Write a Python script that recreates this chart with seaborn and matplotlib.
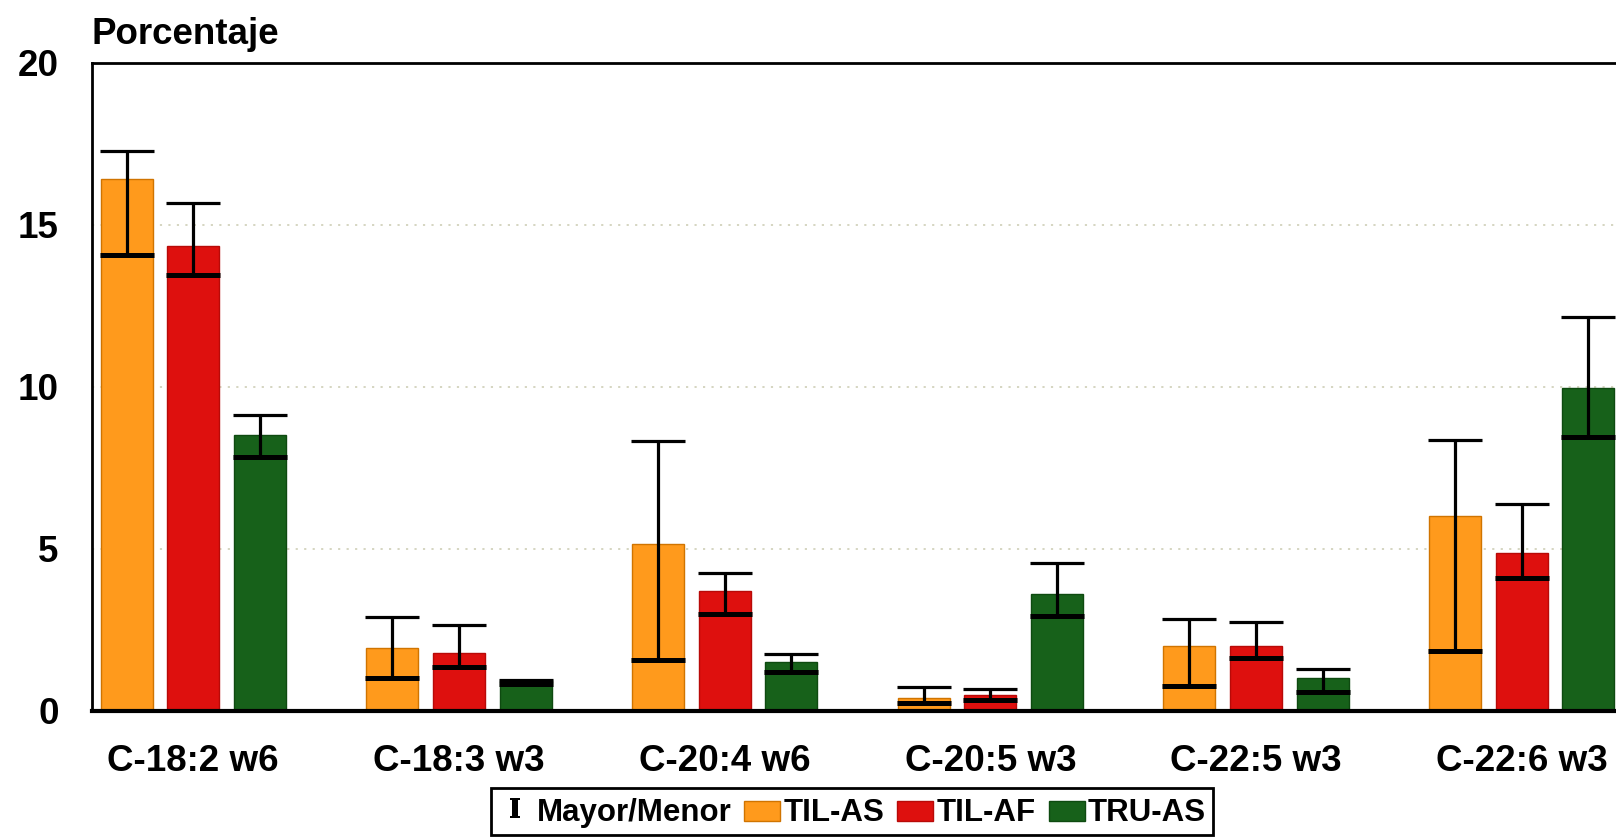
import numpy as np
import pandas as pd
import matplotlib
matplotlib.use("Agg")
import matplotlib.pyplot as plt
from matplotlib.lines import Line2D
from matplotlib.patches import Rectangle
from matplotlib.legend_handler import HandlerPatch
import seaborn as sns

# ---------------- data ----------------
categories = ["C-18:2 w6", "C-18:3 w3", "C-20:4 w6", "C-20:5 w3", "C-22:5 w3", "C-22:6 w3"]
series_names = ["TIL-AS", "TIL-AF", "TRU-AS"]

til_as = [16.42, 1.95, 5.14, 0.41, 2.01, 6.02]
til_af = [14.34, 1.79, 3.71, 0.48, 2.02, 4.87]
tru_as = [8.51, 0.95, 1.50, 3.60, 1.01, 9.96]

til_as_max = [17.29, 2.89, 8.32, 0.74, 2.84, 8.36]
til_as_min = [14.08, 1.01, 1.58, 0.25, 0.76, 1.85]
til_af_max = [15.67, 2.65, 4.25, 0.67, 2.76, 6.39]
til_af_min = [13.46, 1.36, 3.00, 0.34, 1.65, 4.11]
tru_as_max = [9.13, 0.97, 1.75, 4.56, 1.30, 12.15]
tru_as_min = [7.84, 0.82, 1.21, 2.93, 0.60, 8.45]

yticks = [0, 5, 10, 15, 20]
ylabel_title = "Porcentaje"
errbar_label = "Mayor/Menor"

colors = ["#FF9A1C", "#DE100E", "#17611A"]
edge_colors = ["#D07400", "#B80A08", "#0E4A10"]

# ---------------- long table ----------------
values = [til_as, til_af, tru_as]
maxs = [til_as_max, til_af_max, tru_as_max]
mins = [til_as_min, til_af_min, tru_as_min]
rows = []
for s, vals in zip(series_names, values):
    for c, v in zip(categories, vals):
        rows.append({"cat": c, "serie": s, "val": v})
df = pd.DataFrame(rows)

# ---------------- style ----------------
sns.set_style("white")
plt.rcParams["font.family"] = ["Liberation Sans", "DejaVu Sans"]
plt.rcParams["font.weight"] = "bold"
plt.rcParams["mathtext.fontset"] = "dejavuserif"
plt.rcParams["text.color"] = "black"
plt.rcParams["xtick.color"] = "black"
plt.rcParams["ytick.color"] = "black"
plt.rcParams["axes.labelcolor"] = "black"

fig = plt.figure(figsize=(16.16, 8.39), dpi=100)
ax = fig.add_axes([92 / 1616, 128 / 839, 1531 / 1616, (711 - 63) / 839])

sns.barplot(data=df, x="cat", y="val", hue="serie", order=categories,
            hue_order=series_names, palette=colors, width=0.753, gap=0.22,
            errorbar=None, legend=False, ax=ax, saturation=1)

# bar edges + custom min/max error bars
for i, cont in enumerate(ax.containers):
    for j, bar in enumerate(cont):
        bar.set_edgecolor(edge_colors[i])
        bar.set_linewidth(1.0)
        x = bar.get_x() + bar.get_width() / 2
        w = bar.get_width()
        lo, hi = mins[i][j], maxs[i][j]
        ax.vlines(x, lo, hi, color="black", lw=2.3, zorder=5)
        ax.hlines(hi, x - w / 2 - 1 / 266, x + w / 2 + 1 / 266, color="black", lw=2.3, zorder=5)
        ax.hlines(lo, x - w / 2 - 1 / 266, x + w / 2 + 1 / 266, color="black", lw=3.6, zorder=5)

ax.set_xlim(-0.381, 5.381)
ax.set_ylim(0, 20)
ax.set_yticks(yticks)
ax.set_yticklabels([str(t) for t in yticks])
ax.set_xlabel("")
ax.set_ylabel("")
ax.tick_params(axis="y", length=0, pad=24, labelsize=26.5, colors="black")
ax.tick_params(axis="x", length=0, pad=24, labelsize=26.5, colors="black")
for lab in ax.get_xticklabels() + ax.get_yticklabels():
    lab.set_fontweight("bold")

ax.yaxis.grid(True, linestyle=(0, (1.2, 3.5)), color="#d2d2bc", lw=1.3)
ax.xaxis.grid(False)
ax.set_axisbelow(True)

for side in ["left", "top", "right"]:
    ax.spines[side].set_color("black")
    ax.spines[side].set_linewidth(2.0)
ax.spines["bottom"].set_color("black")
ax.spines["bottom"].set_linewidth(3.0)

ax.set_title(ylabel_title, loc="left", pad=14, fontsize=26.5, fontweight="bold", color="black")


# legend
def short_patch(legend, orig_handle, xdescent, ydescent, width, height, fontsize):
    return Rectangle((-xdescent, -0.5), width, 0.66 * fontsize)


handles = [Line2D([], [], ls="none", marker=r"$\mathrm{I}$", color="black", markersize=14, markeredgewidth=0)]
for cont in ax.containers:
    handles.append(cont.patches[0])
labels = [errbar_label] + series_names
hmap = {cont.patches[0]: HandlerPatch(patch_func=short_patch) for cont in ax.containers}
leg = fig.legend(handles, labels, loc="center", bbox_to_anchor=(0.527, 0.033), ncol=4,
                 frameon=True, fancybox=False, framealpha=1, edgecolor="black",
                 prop={"weight": "bold", "size": 22.5}, handlelength=1.15, handleheight=1.12,
                 handletextpad=0.1, columnspacing=0.42, borderpad=0.22, borderaxespad=0,
                 handler_map=hmap)
leg.get_frame().set_linewidth(2.0)
for t in leg.get_texts():
    t.set_color("black")

fig.savefig("out.png", dpi=100)
